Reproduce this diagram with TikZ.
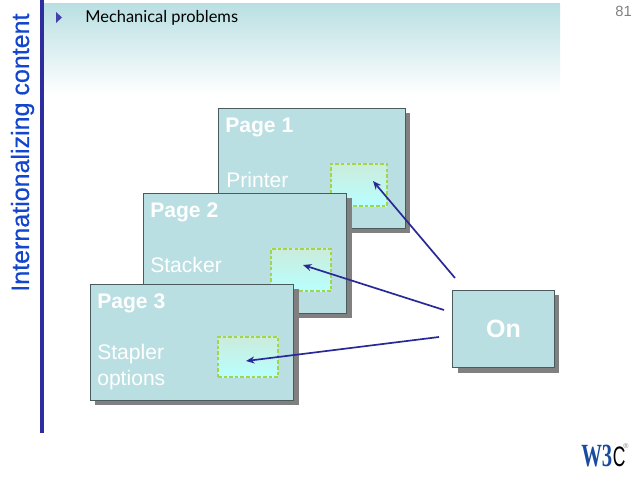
\documentclass[tikz,border=0pt]{standalone}
\usepackage{fontspec}
\setmainfont{Liberation Sans}
\newfontfamily\handfont{Lato}
\newfontfamily\titlefont[FakeBold=0.4]{Liberation Sans}
\newfontfamily\logofont{Liberation Serif}
\usetikzlibrary{arrows.meta,shadows,positioning}
\definecolor{pageteal}{RGB}{185,223,226}
\definecolor{edgegray}{RGB}{75,90,90}
\definecolor{shadowgray}{RGB}{128,128,128}
\definecolor{slottop}{RGB}{202,236,220}
\definecolor{slotbottom}{RGB}{184,255,255}
\definecolor{slotedge}{RGB}{165,212,70}
\definecolor{arrowblue}{RGB}{40,40,150}
\definecolor{barblue}{RGB}{45,45,160}
\definecolor{titleblue}{RGB}{20,70,205}
\definecolor{w3cblue}{RGB}{25,75,160}

\begin{document}
\begin{tikzpicture}[
  x=0.025cm, y=-0.025cm,
  box/.style={rectangle, draw=edgegray, line width=0.6pt, fill=pageteal, inner sep=0pt,
              drop shadow={shadow xshift=0.125cm, shadow yshift=-0.125cm,
                           fill=shadowgray, opacity=1}},
  slot/.style={rectangle, draw=slotedge, line width=0.8pt, inner sep=0pt,
               dash pattern=on 2.5pt off 1.5pt,
               top color=slottop, bottom color=slotbottom},
  word/.style={anchor=base west, text=white, font=\fontsize{15}{18.5}\selectfont, inner sep=0pt},
  head/.style={word, font=\fontsize{15}{18.5}\selectfont\bfseries},
  arr/.style={-{Stealth[length=6pt,width=5pt]}, draw=arrowblue, line width=1.2pt},
]
\useasboundingbox (0,0) rectangle (640,480);

% Banner and side bar
\shade[top color=pageteal, bottom color=white, draw=none] (44,3) rectangle (560,95);
\fill[barblue] (40,0) rectangle (43.5,433);
\fill[barblue!90!white] (56,12) -- (62,17.5) -- (56,23) -- cycle;

\node[rotate=90, anchor=base west, inner sep=0pt, text=titleblue,
      font=\titlefont\fontsize{17.8}{20}\selectfont] (title) at (29,292) {Internationalizing content};
\node[anchor=base west, inner sep=0pt, font=\handfont\fontsize{11.7}{14}\selectfont]
     (topic) at (85,23) {Mechanical problems};
\node[anchor=base east, inner sep=0pt, text=gray, font=\fontsize{10.5}{13}\selectfont]
     (number) at (632,17) {81};

% Page 1
\node[box, minimum width=4.66cm, minimum height=3cm] (page1) at (312,168) {};
\node[head] (title1) at (225,132.5) {Page 1};
\node[word] (text1) at (226,187.5) {Printer};
\node[slot, minimum width=1.4cm, minimum height=1.05cm] (slot1) at (359,185) {};

% Page 2
\node[box, minimum width=5.09cm, minimum height=2.99cm] (page2) at (244.75,253.25) {};
\node[head] (title2) at (150,217.5) {Page 2};
\node[word] (text2) at (150,272.5) {Stacker};
\node[slot, minimum width=1.5cm, minimum height=1.05cm] (slot2) at (301,270) {};

% Page 3
\node[box, minimum width=5.08cm, minimum height=2.9cm] (page3) at (192,342) {};
\node[head] (title3) at (97,308) {Page 3};
\node[word, align=left, anchor=north west] (text3) at (97,344) {Stapler\\options};
\node[slot, minimum width=1.5cm, minimum height=1cm] (slot3) at (248,357) {};

% Switch
\node[box, minimum width=2.53cm, minimum height=1.94cm, text=white,
      font=\fontsize{17.8}{20}\selectfont\bfseries] (switch) at (503.5,328.75) {On};

% Arrow ends
\coordinate (tail1) at (455,278);
\coordinate (tail2) at (444,310);
\coordinate (tail3) at (439,337);
\coordinate (tip1) at (373,181);
\coordinate (tip2) at (303,265);
\coordinate (tip3) at (246,361);

% Arrows
\draw[arr] (tail1) -- (tip1);
\draw[arr] (tail2) -- (tip2);
\draw[arr] (tail3) -- (tip3);

% Logo
\node[anchor=base west, inner sep=0pt, text=w3cblue, font=\logofont\fontsize{23}{25}\selectfont\bfseries]
     (logow) at (581,466) {\scalebox{0.64}[1]{W3}};
\node[anchor=base west, inner sep=0pt, font=\fontsize{20}{22}\selectfont, right=0pt of logow.base east, anchor=base west]
     (logoc) {\scalebox{0.62}[1]{C}};
\node[anchor=west, inner sep=0pt, text=gray, font=\fontsize{5}{6}\selectfont]
     (mark) at (623,446) {®};
\end{tikzpicture}
\end{document}
